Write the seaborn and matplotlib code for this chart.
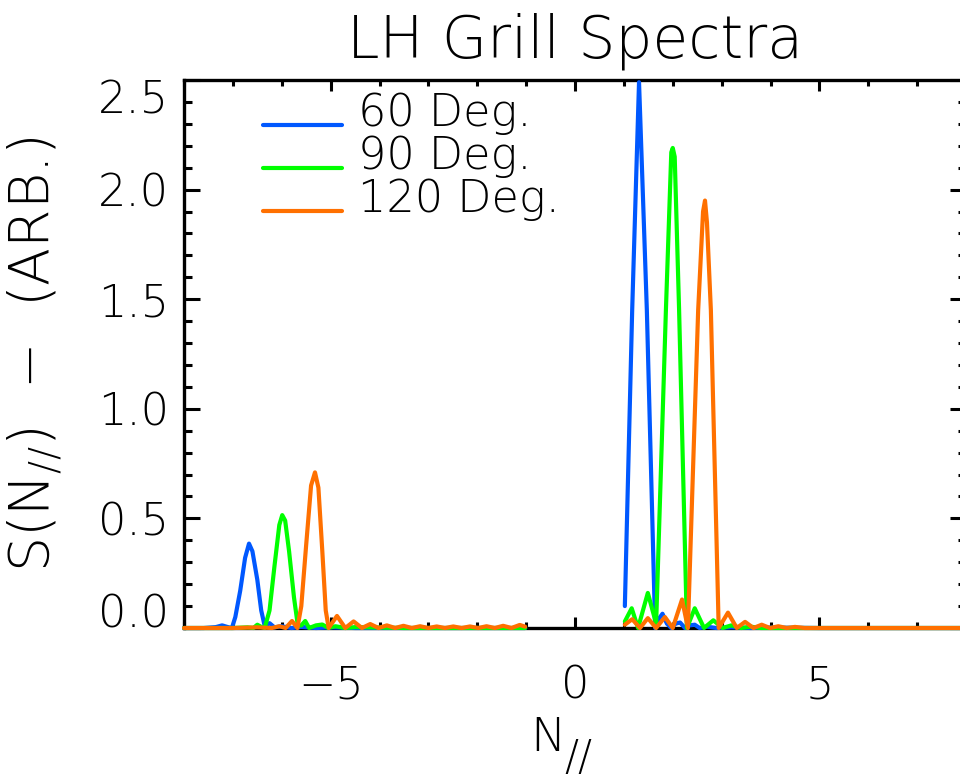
import numpy as np
import pandas as pd
import matplotlib
matplotlib.use("Agg")
import matplotlib.pyplot as plt
from matplotlib.lines import Line2D
from matplotlib.ticker import MultipleLocator
import seaborn as sns

# ---------------- data ----------------
series_names = ["60 Deg.", "90 Deg.", "120 Deg."]
colors = ["#0058FF", "#00FF00", "#FF7000"]

# 60 deg
n60_left = [-8.0, -7.6, -7.35, -7.22, -7.1, -7.02, -6.95, -6.85, -6.75, -6.67, -6.6, -6.5,
            -6.42, -6.35, -6.25, -6.15, -6.0, -5.8, -5.6, -5.3, -5.0, -4.5, -4.0, -3.0, -2.0, -1.02]
s60_left = [0.0, 0.0, 0.004, 0.012, 0.004, 0.0, 0.05, 0.17, 0.32, 0.385, 0.35, 0.22,
            0.08, 0.01, 0.022, 0.003, 0.008, 0.0, 0.005, 0.0, 0.003, 0.0, 0.0, 0.0, 0.0, 0.0]
n60_right = [1.02, 1.17, 1.31, 1.47, 1.64, 1.71, 1.79, 1.88, 1.97, 2.06, 2.15, 2.25, 2.35,
             2.45, 2.55, 2.7, 2.9, 3.2, 3.6, 4.0, 5.0, 6.0, 7.0, 8.0]
s60_right = [0.10, 1.45, 2.49, 1.45, 0.0, 0.04, 0.065, 0.02, 0.0, 0.02, 0.025, 0.0, 0.012,
             0.015, 0.0, 0.006, 0.0, 0.003, 0.0, 0.002, 0.0, 0.0, 0.0, 0.0]

# 90 deg
n90_left = [-8.0, -7.0, -6.7, -6.58, -6.5, -6.42, -6.35, -6.25, -6.15, -6.05, -5.99, -5.93,
            -5.85, -5.75, -5.67, -5.6, -5.52, -5.44, -5.3, -5.17, -5.05, -4.9, -4.7, -4.5,
            -3.5, -2.5, -1.02]
s90_left = [0.0, 0.0, 0.003, 0.0, 0.015, 0.005, 0.0, 0.08, 0.28, 0.47, 0.515, 0.49,
            0.35, 0.14, 0.01, 0.012, 0.032, 0.0, 0.012, 0.016, 0.0, 0.008, 0.0, 0.004,
            0.0, 0.0, 0.0]
n90_right = [1.02, 1.16, 1.29, 1.49, 1.66, 1.86, 1.97, 2.0, 2.04, 2.13, 2.29, 2.45, 2.64,
             2.83, 3.02, 3.2, 3.4, 3.6, 3.8, 4.2, 5.0, 6.0, 7.0, 8.0]
s90_right = [0.03, 0.09, 0.0, 0.16, 0.02, 1.45, 2.17, 2.19, 2.15, 1.45, 0.0, 0.09, 0.0,
             0.035, 0.0, 0.012, 0.0, 0.006, 0.0, 0.0, 0.0, 0.0, 0.0, 0.0]

# 120 deg
n120_left = [-8.0, -7.0, -6.5, -6.2, -6.05, -5.92, -5.79, -5.68, -5.6, -5.5, -5.4, -5.32,
             -5.25, -5.17, -5.1, -5.04, -4.87, -4.70, -4.53, -4.36, -4.19, -4.02, -3.85,
             -3.68, -3.51, -3.34, -3.17, -3.00, -2.83, -2.66, -2.49, -2.32, -2.15, -1.98,
             -1.81, -1.64, -1.47, -1.30, -1.13, -1.02]
s120_left = [0.0, 0.0, 0.003, 0.0, 0.008, 0.0, 0.032, 0.0, 0.1, 0.38, 0.65, 0.71,
             0.64, 0.35, 0.08, 0.0, 0.055, 0.0, 0.03, 0.0, 0.018, 0.0, 0.012,
             0.0, 0.01, 0.0, 0.008, 0.0, 0.007, 0.0, 0.007, 0.0, 0.007, 0.0,
             0.008, 0.0, 0.01, 0.0, 0.014, 0.006]
n120_right = [1.02, 1.17, 1.33, 1.49, 1.66, 1.84, 2.0, 2.19, 2.31, 2.52, 2.62, 2.66, 2.7,
              2.78, 2.94, 3.13, 3.31, 3.48, 3.65, 3.82, 3.99, 4.16, 4.33, 4.5, 4.7, 5.0,
              6.0, 7.0, 8.0]
s120_right = [0.015, 0.04, 0.0, 0.045, 0.0, 0.05, 0.0, 0.13, 0.0, 1.45, 1.9, 1.95, 1.85,
              1.45, 0.0, 0.07, 0.0, 0.028, 0.0, 0.015, 0.0, 0.008, 0.0, 0.005, 0.0, 0.0,
              0.0, 0.0, 0.0]

x_ticks = [-5, 0, 5]
y_ticks = [0.0, 0.5, 1.0, 1.5, 2.0, 2.5]

# ---------------- build long table ----------------
segments = [
    ("60 Deg.", "60L", n60_left, s60_left), ("60 Deg.", "60R", n60_right, s60_right),
    ("90 Deg.", "90L", n90_left, s90_left), ("90 Deg.", "90R", n90_right, s90_right),
    ("120 Deg.", "120L", n120_left, s120_left), ("120 Deg.", "120R", n120_right, s120_right),
]
frames = []
for name, seg, xs, ys in segments:
    frames.append(pd.DataFrame({"N": xs, "S": ys, "series": name, "segment": seg}))
df = pd.concat(frames, ignore_index=True)

# ---------------- style ----------------
sns.set_style("ticks")
plt.rcParams["font.family"] = ["DejaVu Sans"]
plt.rcParams["font.weight"] = "light"
plt.rcParams["axes.titleweight"] = "light"
plt.rcParams["axes.labelweight"] = "light"
plt.rcParams["mathtext.default"] = "regular"
plt.rcParams["axes.unicode_minus"] = True
plt.rcParams["text.color"] = "black"
plt.rcParams["axes.labelcolor"] = "black"
plt.rcParams["xtick.color"] = "black"
plt.rcParams["ytick.color"] = "black"

LIGHT = 200

fig = plt.figure(figsize=(9.6, 7.76), dpi=100)
ax = fig.add_axes([184 / 960, 148 / 776, 782 / 960, 548 / 776])

sns.lineplot(data=df, x="N", y="S", hue="series", units="segment", estimator=None,
             sort=False, hue_order=series_names, palette=colors, linewidth=3,
             legend=False, ax=ax)
for ln in ax.lines:
    ln.set_zorder(3)
    ln.set_clip_on(False)
    ln.set_solid_joinstyle("round")

ax.set_xlim(-8, 8)
ax.set_ylim(0, 2.5)
ax.xaxis.set_major_locator(MultipleLocator(5))
ax.xaxis.set_minor_locator(MultipleLocator(1))
ax.yaxis.set_major_locator(MultipleLocator(0.5))
ax.yaxis.set_minor_locator(MultipleLocator(0.1))
ax.set_xticks(x_ticks)
ax.set_yticks(y_ticks)
ax.set_xticklabels([f"{v:d}".replace("-", "\u2212") for v in x_ticks])
ax.set_yticklabels([f"{v:.1f}" for v in y_ticks])

for sp in ax.spines.values():
    sp.set_linewidth(2.4)
    sp.set_color("black")
    sp.set_visible(True)

ax.tick_params(axis="both", which="both", direction="in", top=True, right=True,
               width=2.2, color="black", labelsize=32, labelcolor="black")
ax.tick_params(axis="x", which="major", length=8, pad=26)
ax.tick_params(axis="x", which="minor", length=4)
ax.tick_params(axis="y", which="major", length=11.5, pad=11)
ax.tick_params(axis="y", which="minor", length=5.8)

for lab in ax.get_xticklabels() + ax.get_yticklabels():
    lab.set_fontweight(LIGHT)
ylabs = ax.get_yticklabels()
ylabs[0].set_va("baseline")
ylabs[-1].set_va("top")

# x label: "N" with a large lowered "//" subscript, as in the reference
ax.set_xlabel("N", fontsize=34, labelpad=0, fontweight=LIGHT, color="black")
ax.xaxis.set_label_coords(0.465, -0.160)
ax.text(0.487, -0.198, "//", transform=ax.transAxes, fontsize=30, fontweight=LIGHT,
        color="black", ha="left", va="top")

ax.set_ylabel("S(N$_{//}$)  $-$  (ARB.)", fontsize=40, labelpad=0, fontweight=LIGHT,
              color="black")
ax.yaxis.set_label_coords(-0.155, 0.5)
ax.set_title("LH Grill Spectra", fontsize=42, pad=16, fontweight=LIGHT, color="black")

handles = [Line2D([], [], color=c, lw=3) for c in colors]
leg = ax.legend(handles, series_names, loc="upper left", bbox_to_anchor=(0.101, 0.952),
                frameon=False, fontsize=32, handlelength=1.78, handletextpad=0.36,
                labelspacing=0.0, borderpad=0, borderaxespad=0)
for t in leg.get_texts():
    t.set_y(14)
    t.set_color("black")
    t.set_fontweight(LIGHT)

fig.savefig("out.png", dpi=100)
